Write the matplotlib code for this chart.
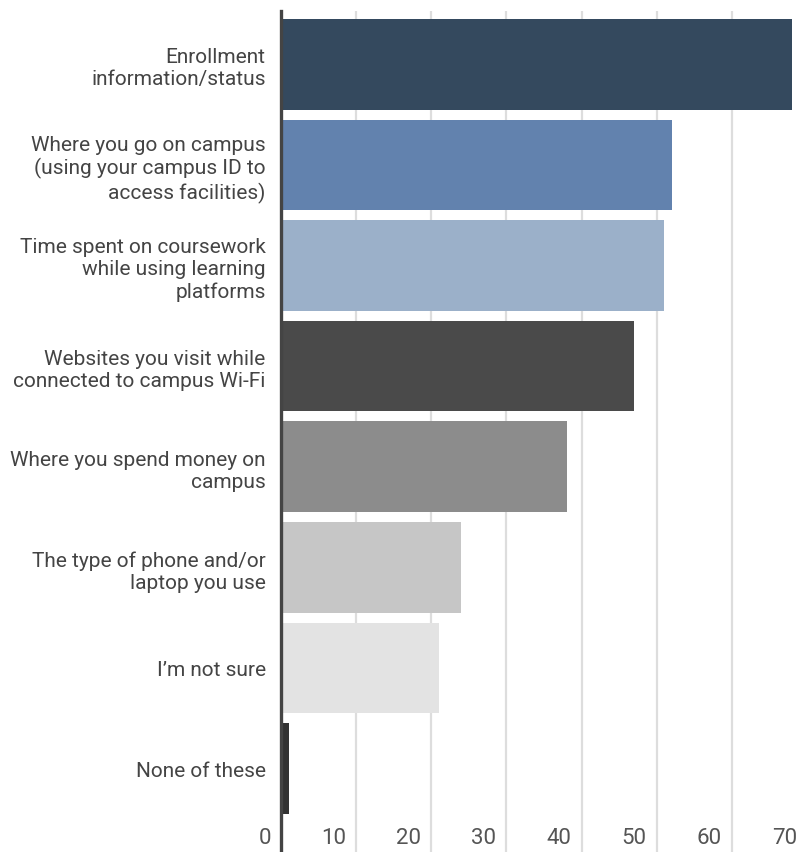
import matplotlib.pyplot as plt
from matplotlib.transforms import blended_transform_factory, offset_copy

categories = [
    "Enrollment\ninformation/status",
    "Where you go on campus\n(using your campus ID to\naccess facilities)",
    "Time spent on coursework\nwhile using learning\nplatforms",
    "Websites you visit while\nconnected to campus Wi-Fi",
    "Where you spend money on\ncampus",
    "The type of phone and/or\nlaptop you use",
    "I\u2019m not sure",
    "None of these",
]
values = [68, 52, 51, 47, 38, 24, 21, 1]
colors = ["#34495e", "#6282ae", "#9bb0c9", "#4a4a4a", "#8c8c8c", "#c6c6c6", "#e3e3e3", "#333333"]
xticks = [0, 10, 20, 30, 40, 50, 60, 70]

plt.rcParams['font.family'] = ['Roboto', 'DejaVu Sans']

W, H = 804, 853
fig = plt.figure(figsize=(W / 100, H / 100), dpi=100)
# axes: left edge at the axis line, 70 sits just past the right edge of the image
ax = fig.add_axes([281 / W, 0, (807 - 281) / W, (H - 12) / H])

y = list(range(len(categories)))
ax.barh(y, values, height=0.9, color=colors, edgecolor="none", zorder=3)

ax.set_xlim(0, 70)
ax.set_ylim(7.83, -0.53)

for v in xticks[1:]:
    ax.axvline(v, color="#dddddd", lw=1.6, zorder=1)

for s in ["top", "right", "bottom"]:
    ax.spines[s].set_visible(False)
ax.spines["left"].set_color("#444444")
ax.spines["left"].set_linewidth(2.4)
ax.spines["left"].set_zorder(4)

ax.set_xticks([])
ax.set_yticks(y)
ax.set_yticklabels(categories, fontsize=15, color="#444444", linespacing=1.2)
ax.tick_params(axis="y", length=0, pad=11)

# value labels sit inside the plot, right-aligned just left of each gridline
tr = blended_transform_factory(ax.transData, ax.transAxes)
tr = offset_copy(tr, fig=fig, x=-10, y=4, units="dots")
for v in xticks:
    ax.text(v, 0, str(v), transform=tr, ha="right", va="bottom",
            fontsize=16, color="#555555")

fig.savefig("out.png", dpi=100)
